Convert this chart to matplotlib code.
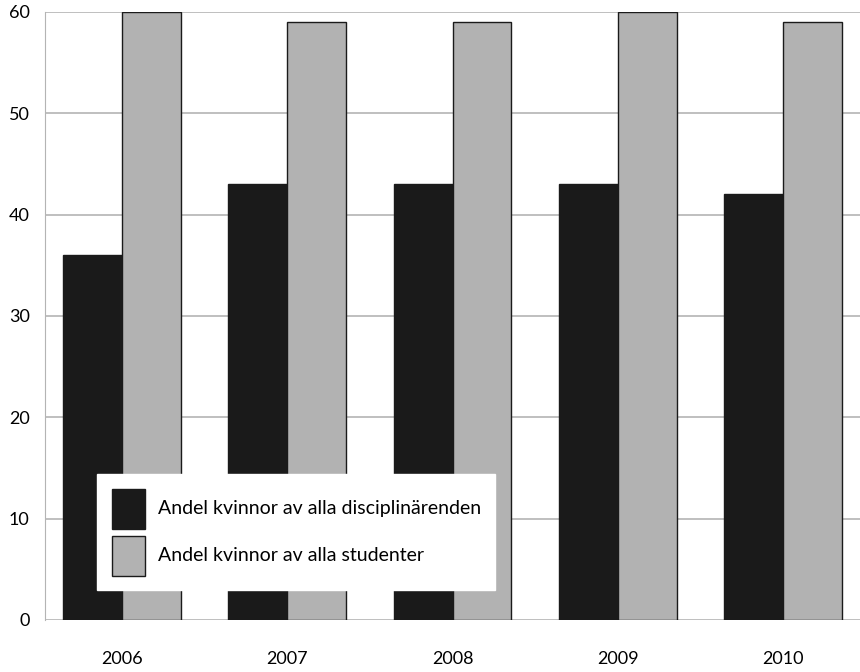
import numpy as np
import matplotlib
matplotlib.use("Agg")
import matplotlib.pyplot as plt

years = ["2006", "2007", "2008", "2009", "2010"]
disciplin = [36, 43, 43, 43, 42]
studenter = [60, 59, 59, 60, 59]
labels = ["Andel kvinnor av alla disciplinärenden", "Andel kvinnor av alla studenter"]

plt.rcParams["font.family"] = ["Lato", "DejaVu Sans"]

fig = plt.figure(figsize=(8.6, 6.72), dpi=100)
ax = fig.add_axes([45/860, 52/672, 815/860, 608/672])

x = np.arange(len(years))
w = 0.357
ax.bar(x - w/2, disciplin, w, color="#1a1a1a", edgecolor="#1a1a1a", linewidth=1, label=labels[0], zorder=3)
ax.bar(x + w/2, studenter, w, color="#b2b2b2", edgecolor="#1a1a1a", linewidth=1, label=labels[1], zorder=3)

ax.set_xlim(-0.467, 4.467)
ax.set_ylim(0, 60)
ax.set_yticks(range(0, 61, 10))
ax.set_xticks(x)
ax.set_xticklabels(years)
ax.grid(axis="y", color="#b4b4b4", linewidth=1.2, zorder=0)
ax.set_axisbelow(True)
for s in ["top", "right", "bottom"]:
    ax.spines[s].set_visible(False)
ax.spines["left"].set_color("#b4b4b4")
ax.tick_params(axis="x", length=0, pad=22, labelsize=13)
ax.tick_params(axis="y", length=0, pad=11, labelsize=13)

leg = ax.legend(loc="upper left", bbox_to_anchor=(0.0638, 0.240), borderaxespad=0,
                fontsize=14, handlelength=1.7, handleheight=2.79, labelspacing=0.36,
                handletextpad=0.67, borderpad=0.75, frameon=True, fancybox=False)
leg.get_frame().set_facecolor("white")
leg.get_frame().set_edgecolor("white")
leg.get_frame().set_alpha(1)
leg.set_zorder(5)

fig.savefig("out.png", dpi=100)
